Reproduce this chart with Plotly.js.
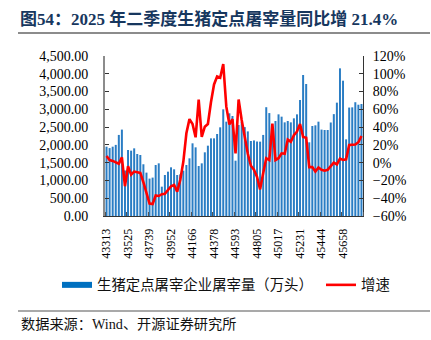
<!DOCTYPE html>
<html><head><meta charset="utf-8">
<script src="https://cdn.plot.ly/plotly-3.0.1.min.js"></script>
<style>html,body{margin:0;padding:0;background:#fff;}#chart{width:431px;height:340px;}</style>
</head><body><div id="chart"></div>
<script>
// Category labels (Excel date serials, monthly 2018-08 .. 2025-07)
const months = ['43313','43344','43374','43405','43435',
 '43466','43497','43525','43556','43586','43617','43647','43678','43709','43739','43770','43800',
 '43831','43862','43891','43922','43952','43983','44013','44044','44075','44105','44136','44166',
 '44197','44228','44256','44287','44317','44348','44378','44409','44440','44470','44501','44531',
 '44562','44593','44621','44652','44682','44713','44743','44774','44805','44835','44866','44896',
 '44927','44958','44986','45017','45047','45078','45108','45139','45170','45200','45231','45261',
 '45292','45323','45352','45383','45413','45444','45474','45505','45536','45566','45597','45627',
 '45658','45689','45717','45748','45778','45809','45839'];
// 生猪定点屠宰企业屠宰量（万头）
const slaughter = [1950,1910,1950,2000,2280,2430,1280,1856,1838,1903,
 1744,1716,1455,1220,1052,1080,1434,1481,825,1153,
 1247,1369,1313,1153,1170,1275,1434,1622,2044,1931,
 1406,1481,1791,1978,2184,2184,2306,2494,3000,2653,
 2888,2813,1556,2559,2650,2500,2380,2110,2125,2095,
 2091,2280,3060,2895,2250,2672,2859,2794,2634,2672,
 2634,2747,2859,3263,3966,3713,2072,2531,2550,2653,
 2430,2419,2419,2630,2865,3188,4153,3806,2156,3050,
 3056,3200,3130,3150];
// 增速 (%)
const growth = [7.5,3,2,0.4,-1.2,6,-26.5,-4,-13.5,-10,
 -11,-11.5,-22,-34.5,-46,-46.5,-37,-37.5,-35.5,-35,
 -30.5,-26.5,-25,-32.6,-19.5,1,33,49,43.5,28.5,
 71,29,40.5,43.5,68,88,97,95.5,111,63,
 43,49,10.5,71,48,27,10,-3.5,-8,-16,
 -30,-12,5,3,44,3,5,10.5,10,26,
 23.6,31,35,43.5,29,28,-5,-5,-10,-5.5,
 -8,-9,-8,-4,0,-2,4.5,3,3.7,19.8,
 19.8,20.5,23,30];

const barName = '生猪定点屠宰企业屠宰量（万头）';
const lineName = '增速';
const titleText = '图54：2025 年二季度生猪定点屠宰量同比增 21.4%';
const sourceText = '数据来源：Wind、开源证券研究所';

const W = 431, H = 340;
const M = {l:105, r:68, t:56, b:124};
const pw = W - M.l - M.r, ph = H - M.t - M.b;
const px2x = p => (p - M.l) / pw;
const py2y = p => (H - M.b - p) / ph;

const idx = months.map((m, i) => i);
const labelStep = 7;
const tickIdx = idx.filter(i => i % labelStep === 0);
const tickTxt = tickIdx.map(i => months[i]);

const SERIF = '"Liberation Serif", "Noto Sans CJK SC", serif';
const CJK = '"Liberation Serif", "Noto Sans CJK SC", sans-serif';
const BLUE = '#0070C0', BAR = '#2a7dc4', RED = '#FF0000';

const traces = [
  {type:'bar', x: idx, y: slaughter, name: barName, showlegend:false,
   marker:{color: BAR, line:{width:0}}, hoverinfo:'skip'},
  {type:'scatter', mode:'lines', x:[null], y:[null], name: barName, legend:'legend',
   line:{color: BLUE, width:6}, hoverinfo:'skip'},
  {type:'scatter', mode:'lines', x: idx, y: growth, name: lineName, yaxis:'y2', legend:'legend2',
   line:{color: RED, width:2.6}, hoverinfo:'skip'}
];

const legendFont = {family: CJK, size:14.4, color:'#111'};
const layout = {
  width: W, height: H, margin: M,
  paper_bgcolor:'#fff', plot_bgcolor:'#fff',
  showlegend: true, bargap: 0.35,
  font:{family: SERIF, color:'#000', size:13},
  title:{text: titleText, x: 20/W, xanchor:'left', y: 1 - 19/H, yanchor:'middle',
    font:{family: CJK, size:17, color:'#17375E', weight:'bold'}},
  xaxis:{type:'linear', range:[-0.5, idx.length - 0.5], tickmode:'array',
    tickvals: tickIdx, ticktext: tickTxt, tickangle:-90, ticks:'',
    showline:true, linecolor:'#333', linewidth:1, showgrid:false, zeroline:false,
    tickfont:{family: SERIF, size:12, color:'#000'}, ticklabelstandoff: 7,
    minor:{tick0:-0.5, dtick: labelStep, ticks:'inside', ticklen:4, tickcolor:'#555', tickwidth:1, showgrid:false}},
  yaxis:{range:[0,4500], dtick:500, tickformat:',.2f', showgrid:false, zeroline:false,
    showline:true, linecolor:'#8c8c8c', linewidth:2, ticks:'inside', ticklen:4, tickcolor:'#333',
    tickfont:{family: SERIF, size:14, color:'#000'}, ticklabelstandoff: 12},
  yaxis2:{range:[-60,120], dtick:20, ticksuffix:'%', overlaying:'y', side:'right',
    showgrid:false, zeroline:false, showline:true, linecolor:'#333', linewidth:1,
    ticks:'inside', ticklen:4, tickcolor:'#333',
    tickfont:{family: SERIF, size:14, color:'#000'}, ticklabelstandoff: 6},
  legend:{orientation:'h', x: px2x(57), xanchor:'left', y: py2y(285), yanchor:'middle',
    font: legendFont, itemwidth:30, bgcolor:'rgba(0,0,0,0)'},
  legend2:{orientation:'h', x: px2x(321), xanchor:'left', y: py2y(285), yanchor:'middle',
    font: legendFont, itemwidth:30, bgcolor:'rgba(0,0,0,0)'},
  shapes:[
    {type:'line', xref:'paper', yref:'paper', x0: px2x(18), x1: px2x(430), y0: py2y(33), y1: py2y(33),
     line:{color:'#8c8c8c', width:2}},
    {type:'line', xref:'paper', yref:'paper', x0: px2x(18), x1: px2x(430), y0: py2y(311), y1: py2y(311),
     line:{color:'#8c8c8c', width:1.5}}
  ],
  annotations:[
    {text: sourceText, xref:'paper', yref:'paper', x: px2x(19), y: py2y(324), xanchor:'left', yanchor:'middle',
     showarrow:false, font:{family: CJK, size:14.2, color:'#111'}}
  ]
};

Plotly.newPlot('chart', traces, layout, {staticPlot:true, displayModeBar:false});
</script></body></html>
